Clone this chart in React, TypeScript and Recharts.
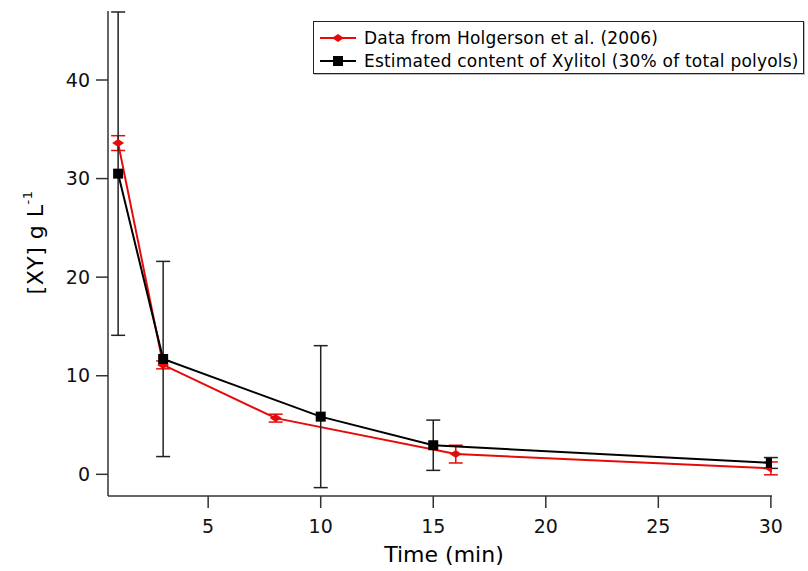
import { LineChart, Line, XAxis, YAxis, ErrorBar, Legend } from 'recharts';

// Holgerson et al. (2006)
const holgersonTime = [1, 3, 8, 16, 30];
const holgersonXY = [33.6, 11.1, 5.7, 2.05, 0.6];
const holgersonErr = [0.75, 0.4, 0.4, 0.9, 0.65];

// estimated xylitol content (30% of total polyols)
const xylitolTime = [1, 3, 10, 15, 30];
const xylitolXY = [30.5, 11.7, 5.85, 2.95, 1.15];
const xylitolErr = [16.4, 9.9, 7.2, 2.55, 0.55];

const xTicks = [5, 10, 15, 20, 25, 30];
const yTicks = [0, 10, 20, 30, 40];

const holgersonLabel = 'Data from Holgerson et al. (2006)';
const xylitolLabel = 'Estimated content of Xylitol (30% of total polyols)';

const holgersonData = holgersonTime.map((t, i) => ({ t, xy: holgersonXY[i], err: holgersonErr[i] }));
const xylitolData = xylitolTime.map((t, i) => ({ t, xy: xylitolXY[i], err: xylitolErr[i] }));

const RED = '#e80a0a';
const BLACK = '#000000';
const AXIS = '#333333';
const FONT = '"DejaVu Sans", Verdana, sans-serif';

const Diamond = (props: any) => {
  const { cx, cy } = props;
  if (cx == null || cy == null) return null;
  return <polygon points={`${cx - 6},${cy} ${cx},${cy - 4} ${cx + 6},${cy} ${cx},${cy + 4}`} fill={RED} />;
};

const Square = (props: any) => {
  const { cx, cy } = props;
  if (cx == null || cy == null) return null;
  return <rect x={cx - 5} y={cy - 5} width={10} height={10} fill={BLACK} />;
};

const LegendBox = () => (
  <div
    style={{
      width: 491,
      height: 53,
      boxSizing: 'border-box',
      border: '1.5px solid #222',
      boxShadow: '1px 1px 0 #bbb',
      background: '#fff',
      fontFamily: FONT,
      fontSize: 17,
      letterSpacing: 0.2,
      color: '#000',
      padding: '4px 0 0 6px',
    }}
  >
    {[
      { label: holgersonLabel, color: RED, kind: 'diamond' },
      { label: xylitolLabel, color: BLACK, kind: 'square' },
    ].map((row) => (
      <div key={row.label} style={{ display: 'flex', alignItems: 'center', height: 23, whiteSpace: 'nowrap' }}>
        <svg width={36} height={14} style={{ marginRight: 8 }}>
          <line x1={0} y1={7} x2={36} y2={7} stroke={row.color} strokeWidth={2} />
          {row.kind === 'diamond' ? (
            <polygon points="12,7 18,3 24,7 18,11" fill={row.color} />
          ) : (
            <rect x={13} y={2} width={10} height={10} fill={row.color} />
          )}
        </svg>
        <span>{row.label}</span>
      </div>
    ))}
  </div>
);

const YLabel = (props: any) => {
  const { viewBox } = props;
  const cx = viewBox.x + 43 - 48;
  const cy = viewBox.y + viewBox.height / 2 - 11;
  return (
    <text
      x={cx}
      y={cy}
      transform={`rotate(-90, ${cx}, ${cy})`}
      textAnchor="middle"
      fontFamily={FONT}
      fontSize={22}
      letterSpacing={0.5}
      fill="#000"
    >
      [XY] g L
      <tspan dy={-11} fontSize={13}>
        -1
      </tspan>
    </text>
  );
};

const XLabel = (props: any) => {
  const { viewBox } = props;
  return (
    <text
      x={viewBox.x + viewBox.width / 2 + 4}
      y={viewBox.y + 66}
      textAnchor="middle"
      fontFamily={FONT}
      fontSize={22}
      fill="#000"
    >
      Time (min)
    </text>
  );
};

export default function App() {
  return (
    <div style={{ position: 'absolute', left: 0, top: 0, width: 808, height: 571, background: '#fff' }}>
      <LineChart width={808} height={571} margin={{ top: 11, right: 36, bottom: 45, left: 48 }}>
        <XAxis
          dataKey="t"
          type="number"
          domain={[0.55, 30.05]}
          allowDataOverflow
          ticks={xTicks}
          height={30}
          tickSize={12}
          tickMargin={12}
          stroke={AXIS}
          strokeWidth={1.5}
          tick={{ fill: '#111', fontSize: 19, fontFamily: FONT }}
          label={{ content: XLabel }}
        />
        <YAxis
          type="number"
          domain={[-2.2, 47]}
          allowDataOverflow
          ticks={yTicks}
          width={60}
          tickSize={12}
          tickMargin={6}
          stroke={AXIS}
          strokeWidth={1.5}
          tick={{ fill: '#111', fontSize: 19, fontFamily: FONT }}
          label={{ content: YLabel }}
        />
        <Legend
          layout="vertical"
          align="center"
          verticalAlign="middle"
          content={LegendBox}
          wrapperStyle={{ left: 313, top: 21, width: 491, height: 53 }}
        />
        <Line
          data={holgersonData}
          dataKey="xy"
          name={holgersonLabel}
          stroke={RED}
          strokeWidth={2}
          dot={Diamond}
          activeDot={false}
          isAnimationActive={false}
        >
          <ErrorBar dataKey="err" direction="y" width={7} stroke={RED} strokeWidth={1.5} />
        </Line>
        <Line
          data={xylitolData}
          dataKey="xy"
          name={xylitolLabel}
          stroke={BLACK}
          strokeWidth={2}
          dot={Square}
          activeDot={false}
          isAnimationActive={false}
        >
          <ErrorBar dataKey="err" direction="y" width={7} stroke="#222" strokeWidth={1.5} />
        </Line>
      </LineChart>
    </div>
  );
}
